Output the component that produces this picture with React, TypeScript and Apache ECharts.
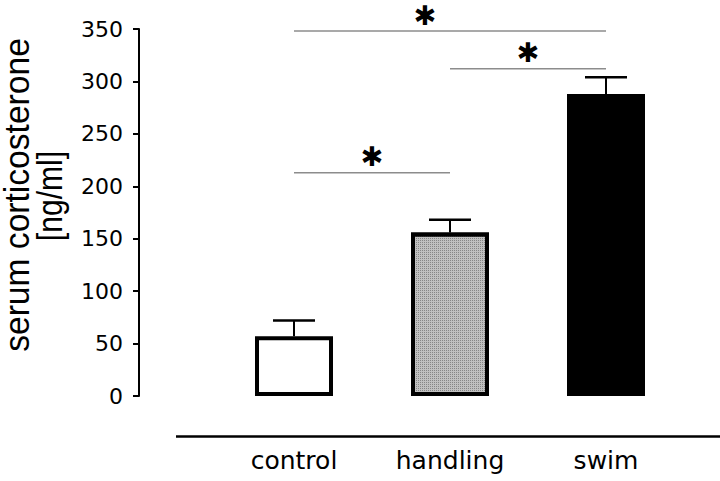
import React, { useEffect, useRef } from "react";
import * as echarts from "echarts";

const categories = ["control", "handling", "swim"];
const means = [57, 156, 288];
const sem = [15, 12, 16];
const fills = ["#ffffff", "#c0c0c0", "#000000"];
// significance brackets
const bracketFrom = [0, 1, 0];
const bracketTo = [2, 2, 1];
const bracketLevel = [348, 312, 213];
const starFrac = [0.42, 0.5, 0.5];
const yMin = 0;
const yMax = 350;
const yInterval = 50;

export default function App() {
  const ref = useRef<HTMLDivElement>(null);
  useEffect(() => {
    if (!ref.current) return;
    document.body.style.margin = "0";
    const chart = echarts.init(ref.current, undefined, { renderer: "svg" });
    const option: any = {
      animation: false,
      backgroundColor: "#ffffff",
      grid: { left: 216, right: 36, top: 29, bottom: 85, containLabel: false },
      xAxis: {
        type: "category",
        data: categories,
        axisLine: { show: false },
        axisTick: { show: false },
        axisLabel: {
          margin: 52,
          color: "#000",
          fontFamily: "DejaVu Sans",
          fontSize: 25,
        },
      },
      yAxis: {
        type: "value",
        min: yMin,
        max: yMax,
        interval: yInterval,
        offset: 77,
        splitLine: { show: false },
        axisLine: { show: true, lineStyle: { color: "#000", width: 2 } },
        axisTick: { show: true, inside: false, length: 6, lineStyle: { color: "#000", width: 2 } },
        axisLabel: {
          margin: 16,
          color: "#000",
          fontFamily: "DejaVu Sans",
          fontSize: 22,
        },
      },
      series: [
        {
          type: "bar",
          barWidth: 78,
          data: means.map((v, i) => ({
            value: v,
            itemStyle: {
              color: fills[i],
              borderColor: "#000",
              borderWidth: 4,
              decal:
                i === 1
                  ? {
                      symbol: "rect",
                      symbolSize: 1,
                      dashArrayX: [1, 1],
                      dashArrayY: [1, 1],
                      color: "rgba(0,0,0,0.3)",
                      rotation: 0,
                    }
                  : undefined,
            },
          })),
          z: 2,
        },
        {
          type: "custom",
          z: 3,
          data: means.map((v, i) => [i, v, sem[i]]),
          renderItem: (params: any, api: any) => {
            const i = api.value(0);
            const m = api.value(1);
            const e = api.value(2);
            const base = api.coord([i, m]);
            const top = api.coord([i, m + e]);
            return {
              type: "group",
              children: [
                {
                  type: "line",
                  shape: { x1: base[0], y1: base[1], x2: top[0], y2: top[1] },
                  style: { stroke: "#000", lineWidth: 2 },
                },
                {
                  type: "line",
                  shape: { x1: top[0] - 21, y1: top[1], x2: top[0] + 21, y2: top[1] },
                  style: { stroke: "#000", lineWidth: 2.5 },
                },
              ],
            };
          },
        },
        {
          type: "custom",
          z: 3,
          data: bracketFrom.map((f, k) => [f, bracketTo[k], bracketLevel[k], starFrac[k]]),
          renderItem: (params: any, api: any) => {
            const p1 = api.coord([api.value(0), api.value(2)]);
            const p2 = api.coord([api.value(1), api.value(2)]);
            const sx = p1[0] + (p2[0] - p1[0]) * api.value(3);
            return {
              type: "group",
              children: [
                {
                  type: "line",
                  shape: { x1: p1[0], y1: p1[1], x2: p2[0], y2: p2[1] },
                  style: { stroke: "#8c8c8c", lineWidth: 1.5 },
                },
                {
                  type: "text",
                  x: sx,
                  y: p1[1] - 16,
                  style: {
                    text: "✱",
                    fill: "#000",
                    font: "27px 'DejaVu Sans'",
                    align: "center",
                    verticalAlign: "middle",
                  },
                },
              ],
            };
          },
        },
      ],
      graphic: [
        {
          type: "line",
          shape: { x1: 176, y1: 436.5, x2: 720, y2: 436.5 },
          style: { stroke: "#000", lineWidth: 2.5 },
        },
        {
          type: "text",
          x: 17,
          y: 195,
          rotation: Math.PI / 2,
          scaleX: 0.96,
          style: {
            text: "serum corticosterone",
            font: "35px 'Liberation Sans'",
            fill: "#000",
            align: "center",
            verticalAlign: "middle",
          },
        },
        {
          type: "text",
          x: 50,
          y: 196,
          rotation: Math.PI / 2,
          scaleX: 0.86,
          style: {
            text: "[ng/ml]",
            font: "35px 'Liberation Sans'",
            fill: "#000",
            align: "center",
            verticalAlign: "middle",
          },
        },
      ],
    };
    chart.setOption(option);
    return () => chart.dispose();
  }, []);
  return <div ref={ref} style={{ width: 720, height: 481 }} />;
}
